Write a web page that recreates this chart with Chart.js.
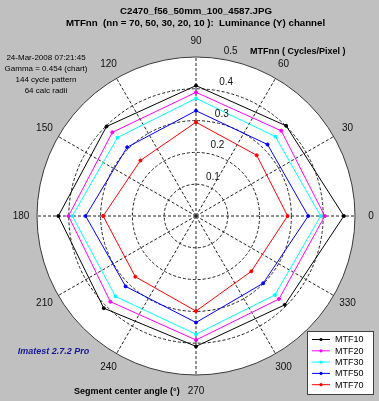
<!DOCTYPE html>
<html><head><meta charset="utf-8">
<script src="https://cdn.jsdelivr.net/npm/chart.js@4.4.1/dist/chart.umd.min.js"></script>
<style>html,body{margin:0;padding:0;background:#c0c0c0;} canvas{display:block;}</style>
</head><body>
<canvas id="c" width="379" height="401"></canvas>
<script>
// ---- data ----
const titleLines = ['C2470_f56_50mm_100_4587.JPG', 'MTFnn  (nn = 70, 50, 30, 20, 10 ):  Luminance (Y) channel'];
const infoLines = ['24-Mar-2008 07:21:45', 'Gamma = 0.454 (chart)', '144 cycle pattern', '64 calc radii'];
const categories = [0, 45, 90, 135, 180, 225, 270, 315];          // segment center angle (deg)
const mtf10 = [0.465, 0.401, 0.410, 0.398, 0.433, 0.410, 0.410, 0.395];
const mtf20 = [0.405, 0.379, 0.389, 0.372, 0.401, 0.381, 0.390, 0.369];
const mtf30 = [0.392, 0.353, 0.370, 0.349, 0.389, 0.358, 0.372, 0.351];
const mtf50 = [0.353, 0.318, 0.331, 0.306, 0.347, 0.313, 0.335, 0.299];
const mtf70 = [0.288, 0.270, 0.295, 0.247, 0.292, 0.270, 0.299, 0.246];
const seriesNames = ['MTF10', 'MTF20', 'MTF30', 'MTF50', 'MTF70'];
const seriesColors = ['#000000', '#ff00ff', '#00ffff', '#0000ff', '#ff0000'];
const angleTicks = [0, 30, 60, 90, 120, 150, 180, 210, 240, 270, 300, 330];
const radialTicks = [0.1, 0.2, 0.3, 0.4, 0.5];
const radialTickLabels = ['0.1', '0.2', '0.3', '0.4', '0.5'];

// ---- radar category axis: 15 deg steps, clockwise from 0 (right) ----
const fullAngles = [];
for (let i = 0; i < 24; i++) fullAngles.push((360 - 15 * i) % 360);
const axisLabels = fullAngles.map(a => angleTicks.includes(a) ? String(a) : '');
const seriesValues = [mtf10, mtf20, mtf30, mtf50, mtf70];

const datasets = seriesValues.map((vals, si) => ({
  label: seriesNames[si],
  data: fullAngles.map(a => { const k = categories.indexOf(a); return k >= 0 ? vals[k] : null; }),
  borderColor: seriesColors[si],
  backgroundColor: seriesColors[si],
  pointBackgroundColor: seriesColors[si],
  pointBorderColor: seriesColors[si],
  borderWidth: 1,
  pointRadius: 1.5,
  pointBorderWidth: 1,
  fill: false,
  spanGaps: true,
  tension: 0
}));

const FONT = '"Liberation Sans", Arial, sans-serif';

const decor = {
  id: 'decor',
  afterDraw(chart) {
    const c = chart.ctx;
    const s = chart.scales.r;
    c.save();
    c.fillStyle = '#000';
    c.textAlign = 'center';
    c.textBaseline = 'middle';
    // titles
    c.font = 'bold 9.7px ' + FONT;
    c.fillText(titleLines[0], 196, 11);
    c.fillText(titleLines[1], 195.5, 23);
    // info block
    c.font = '8px ' + FONT;
    infoLines.forEach((t, i) => c.fillText(t, 46, 58 + 11 * i));
    // angle labels
    c.font = '10px ' + FONT;
    c.fillStyle = '#111';
    angleTicks.forEach(a => {
      const idx = fullAngles.indexOf(a);
      const p = s.getPointPosition(idx, s.drawingArea + 16);
      c.fillText(String(a), p.x, p.y);
    });
    // radial tick labels
    const ang = 82 * Math.PI / 180;
    radialTicks.forEach((v, i) => {
      const r = s.getDistanceFromCenterForValue(v);
      c.fillText(radialTickLabels[i], s.xCenter + r * Math.cos(ang) + 12.5, s.yCenter - r * Math.sin(ang) - 7.5);
    });
    // axis captions
    c.fillStyle = '#000';
    c.font = 'bold 9px ' + FONT;
    c.textAlign = 'left';
    c.fillText('MTFnn ( Cycles/Pixel )', 250, 52);
    c.fillText('Segment center angle (\u00B0)', 74, 392);
    c.textAlign = 'center';
    c.fillStyle = '#16169c';
    c.font = 'italic bold 9px ' + FONT;
    c.fillText('Imatest 2.7.2 Pro', 53.5, 352);
    // legend
    c.fillStyle = '#fff';
    c.fillRect(307.5, 331.5, 66, 63);
    c.strokeStyle = '#404040';
    c.lineWidth = 1;
    c.strokeRect(307.5, 331.5, 66, 63);
    c.font = '9px ' + FONT;
    c.textAlign = 'left';
    chart.data.datasets.forEach((ds, i) => {
      const y = 339.5 + 11.3 * i;
      c.strokeStyle = ds.borderColor;
      c.beginPath(); c.moveTo(312, y); c.lineTo(330, y); c.stroke();
      c.fillStyle = ds.borderColor;
      c.beginPath(); c.arc(321, y, 1.6, 0, Math.PI * 2); c.fill();
      c.fillStyle = '#000';
      c.fillText(ds.label, 335, y + 0.5);
    });
    c.restore();
  }
};

new Chart(document.getElementById('c').getContext('2d'), {
  type: 'radar',
  data: { labels: axisLabels, datasets },
  options: {
    responsive: false,
    animation: false,
    devicePixelRatio: 1,
    layout: { padding: { left: 37, top: 57, right: 24, bottom: 26 } },
    plugins: { legend: { display: false }, title: { display: false }, tooltip: { enabled: false } },
    scales: {
      r: {
        min: 0, max: 0.5, startAngle: 90,
        backgroundColor: '#ffffff',
        ticks: { display: false, stepSize: 0.1 },
        pointLabels: { display: false },
        grid: { circular: true, color: ctx => (ctx.tick && ctx.tick.value > 0.49) ? '#3a3a3a' : '#222', lineWidth: 1 },
        border: { dash: ctx => (ctx.tick && ctx.tick.value > 0.49) ? [] : [3, 2] },
        angleLines: { color: ctx => ctx.label ? '#222' : 'rgba(0,0,0,0)', lineWidth: ctx => ctx.label ? 1 : 0, borderDash: [3, 2] }
      }
    }
  },
  plugins: [decor]
});
</script>
</body></html>
